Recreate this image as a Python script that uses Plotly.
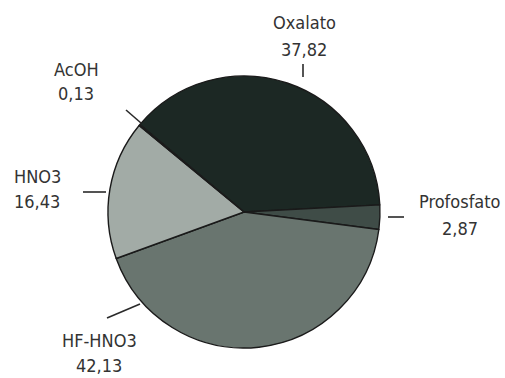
import plotly.graph_objects as go

# Share of each digestion medium (%)
labels = ["Oxalato", "Profosfato", "HF-HNO3", "HNO3", "AcOH"]
values = [37.82, 2.87, 42.13, 16.43, 0.13]
colors = ["#1c2824", "#3f4c47", "#69756f", "#a2aba6", "#cfd4d1"]

W, H = 505, 378

# Pie placement in pixels (centre and radius)
CX, CY, R = 244, 212, 136

# Label placement: centres of the name and value lines, and the leader tick (pixels)
label_layout = {
    "Oxalato":    dict(x=304, name_y=23,  value_y=49,  tick=((303, 64), (303, 77))),
    "Profosfato": dict(x=460, name_y=201, value_y=228, tick=((388, 217), (404, 217))),
    "HF-HNO3":    dict(x=99,  name_y=340, value_y=365, tick=((107, 318), (140, 304))),
    "HNO3":       dict(x=37,  name_y=176, value_y=201, tick=((83, 192), (106, 192))),
    "AcOH":       dict(x=76,  name_y=69,  value_y=93,  tick=((126, 110), (141, 123))),
}


def px(x):
    return x / W


def py(y):
    return 1 - y / H


def fmt(v):
    return f"{v:.2f}".replace(".", ",")


fig = go.Figure(
    go.Pie(
        labels=labels,
        values=values,
        sort=False,
        direction="clockwise",
        rotation=-50,
        marker=dict(colors=colors, line=dict(color="#1a1a1a", width=1.4)),
        textinfo="none",
        hoverinfo="label+value",
        showlegend=False,
        domain=dict(x=[px(CX - R), px(CX + R)], y=[py(CY + R), py(CY - R)]),
    )
)

font = dict(family="DejaVu Sans Condensed, sans-serif", size=18, color="#333333")

shapes = []
annotations = []
for name, val in zip(labels, values):
    lay = label_layout[name]
    (x0, y0), (x1, y1) = lay["tick"]
    shapes.append(dict(type="line", xref="paper", yref="paper",
                       x0=px(x0), y0=py(y0), x1=px(x1), y1=py(y1),
                       line=dict(color="#2a2a2a", width=1.6)))
    for txt, ty in ((name, lay["name_y"]), (fmt(val), lay["value_y"])):
        annotations.append(dict(xref="paper", yref="paper", x=px(lay["x"]), y=py(ty),
                                xanchor="center", yanchor="middle", showarrow=False,
                                text=txt, font=font, align="center"))

fig.update_layout(
    width=W, height=H,
    margin=dict(l=0, r=0, t=0, b=0),
    paper_bgcolor="white",
    plot_bgcolor="white",
    shapes=shapes,
    annotations=annotations,
)

fig.write_html("out.html")
